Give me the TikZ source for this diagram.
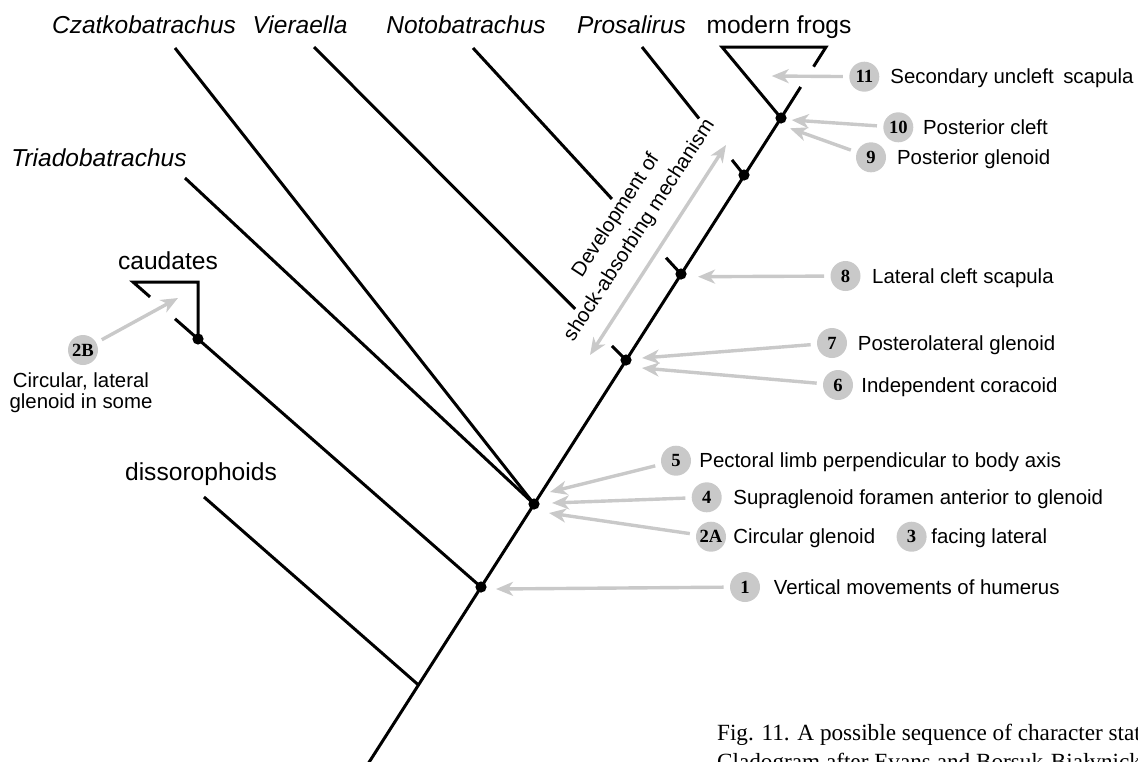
\documentclass[tikz,border=0pt]{standalone}
\usepackage{fontspec}
\setmainfont{Liberation Sans}
\newfontfamily\serifnum{Liberation Serif}
\usetikzlibrary{arrows.meta,calc}
\definecolor{lgray}{HTML}{C9C9C9}
\tikzset{
 branch/.style={line width=1.5pt, line join=miter},
 tdot/.style={circle, fill=black, inner sep=0pt, minimum size=5.6pt},
 numc/.style={circle, fill=lgray, inner sep=0pt, minimum size=15pt, font=\serifnum\bfseries\fontsize{9.3}{9}\selectfont},
 gtip/.tip={Stealth[length=8.5pt,width=7pt,inset=2.5pt]},
 garrow/.style={draw=lgray, line width=1.7pt, -gtip, shorten <=3pt},
 taxon/.style={font=\fontsize{12.25}{14}\selectfont\itshape, inner sep=0pt, anchor=base},
 group/.style={font=\fontsize{12.3}{14}\selectfont, inner sep=0pt, anchor=base},
 chr/.style={font=\fontsize{10.2}{12}\selectfont, inner sep=0pt, anchor=base west},
 capt/.style={font=\serifnum\fontsize{11.6}{14.5}\selectfont, inner sep=0pt, anchor=base west},
}
\begin{document}
\begin{tikzpicture}[x=0.5pt,y=-0.5pt]
\useasboundingbox (0,0) rectangle (1138,761);
\clip (0,0) rectangle (1138,761);
% taxon labels
\node[taxon] (czat) at (144,33) {Czatkobatrachus};
\node[taxon] (vier) at (300,33) {Vieraella};
\node[taxon] (noto) at (466,33) {Notobatrachus};
\node[taxon] (pros) at (631.5,33) {Prosalirus};
\node[group] (frogs) at (779,33) {modern frogs};
\node[taxon] (triad) at (99,166.7) {Triadobatrachus};
\node[group] (caud) at (168,269) {caudates};
\node[group] (diss) at (201,480) {dissorophoids};
% tree points
\coordinate (bot) at (366,767);
\coordinate (n0) at (418.5,685);
\coordinate (n1) at (481,587);
\coordinate (n2) at (534,504);
\coordinate (n67) at (626,360);
\coordinate (n8) at (681,274);
\coordinate (n9) at (744,175);
\coordinate (n10) at (781,118);
\coordinate (top) at (826,47);
\coordinate (frogL) at (722,47);
\coordinate (czT) at (175,48);
\coordinate (viT) at (314,47);
\coordinate (noT) at (473,48);
\coordinate (prT) at (642,47);
\coordinate (trT) at (185,178);
\coordinate (caL) at (133,282);
\coordinate (caR) at (198,282);
\coordinate (caN) at ($(caL)!0.1868!(n1)$);
\coordinate (diT) at (204,497);
% trunk and modern frogs
\draw[branch] (bot) -- (n10) -- ($(n10)!0.437!(top)$);
\draw[branch] ($(n10)!0.723!(top)$) -- (top) -- (frogL) -- (n10);
% branches
\draw[branch] (czT) -- (n2);
\draw[branch] (trT) -- (n2);
\draw[branch] (viT) -- ($(viT)!0.837!(n67)$);
\draw[branch] ($(viT)!0.955!(n67)$) -- (n67);
\draw[branch] (noT) -- ($(noT)!0.668!(n8)$);
\draw[branch] ($(noT)!0.928!(n8)$) -- (n8);
\draw[branch] (prT) -- ($(prT)!0.559!(n9)$);
\draw[branch] ($(prT)!0.882!(n9)$) -- (n9);
\draw[branch] (diT) -- (n0);
\draw[branch] ($(caL)!0.1207!(n1)$) -- (n1);
\draw[branch] ($(caL)!0.0489!(n1)$) -- (caL) -- (caR) -- (caN);
\foreach \p in {n1,n2,n67,n8,n9,n10,caN} \node[tdot] (d-\p) at (\p) {};
% character circles and labels
\node[numc] (c11) at (864.3,76.7) {11};
\node[chr] (l11) at (890,83.7) {Secondary uncleft\hspace{0.47em}scapula};
\node[numc] (c10) at (898.3,127.3) {10};
\node[chr] (l10) at (922.7,134) {Posterior cleft};
\node[numc] (c9) at (871,157.3) {9};
\node[chr] (l9) at (896.7,164) {Posterior glenoid};
\node[numc] (c8) at (845.5,276) {8};
\node[chr] (l8) at (871.8,283) {Lateral cleft scapula};
\node[numc] (c7) at (832,343) {7};
\node[chr] (l7) at (857.5,350) {Posterolateral glenoid};
\node[numc] (c6) at (838,385) {6};
\node[chr] (l6) at (861,392) {Independent coracoid};
\node[numc] (c5) at (676,460.7) {5};
\node[chr] (l5) at (699,467.7) {Pectoral limb perpendicular to body axis};
\node[numc] (c4) at (706.7,497.3) {4};
\node[chr] (l4) at (733,504) {Supraglenoid foramen anterior to glenoid};
\node[numc] (c2a) at (711,536.7) {2A};
\node[chr] (l2a) at (733,543.7) {Circular glenoid};
\node[numc] (c3) at (911.6,536.7) {3};
\node[chr] (l3) at (931,543.7) {facing lateral};
\node[numc] (c1) at (745,587) {1};
\node[chr] (l1) at (773.4,594) {Vertical movements of humerus};
\node[numc] (c2b) at (83,350) {2B};
\node[font=\fontsize{10.2}{10.5}\selectfont, align=center, inner sep=0pt, anchor=north] (l2b) at (81,372) {Circular, lateral\\glenoid in some};
% arrow tips
\coordinate (t11) at (771.7,76);
\coordinate (t10) at (791.7,120);
\coordinate (t9) at (790,128.3);
\coordinate (t8) at (698,276.7);
\coordinate (t7) at (642,358);
\coordinate (t6) at (642,368);
\coordinate (t5) at (550,492);
\coordinate (t4) at (552,503);
\coordinate (t2a) at (549,513);
\coordinate (t1) at (496,589);
\coordinate (t2b) at (178,298);
\foreach \c/\t in {c11/t11,c10/t10,c9/t9,c8/t8,c7/t7,c6/t6,c5/t5,c4/t4,c2a/t2a,c1/t1,c2b/t2b}
  \draw[garrow] (\c) -- (\t);
% development arrow and text
\coordinate (devA) at (590,355);
\coordinate (devB) at (726,145);
\draw[draw=lgray, line width=1.7pt, gtip-gtip] (devA) -- (devB);
\node[rotate=57, align=center, font=\fontsize{10.2}{14}\selectfont, inner sep=0pt] (dev) at (628,223) {Development of\\shock-absorbing mechanism};
% caption
\node[capt] (cap1) at (716.7,740) {Fig. 11. A possible sequence of character states};
\node[capt] (cap2) at (716.7,769) {Cladogram after Evans and Borsuk-Białynicka};
\end{tikzpicture}
\end{document}
